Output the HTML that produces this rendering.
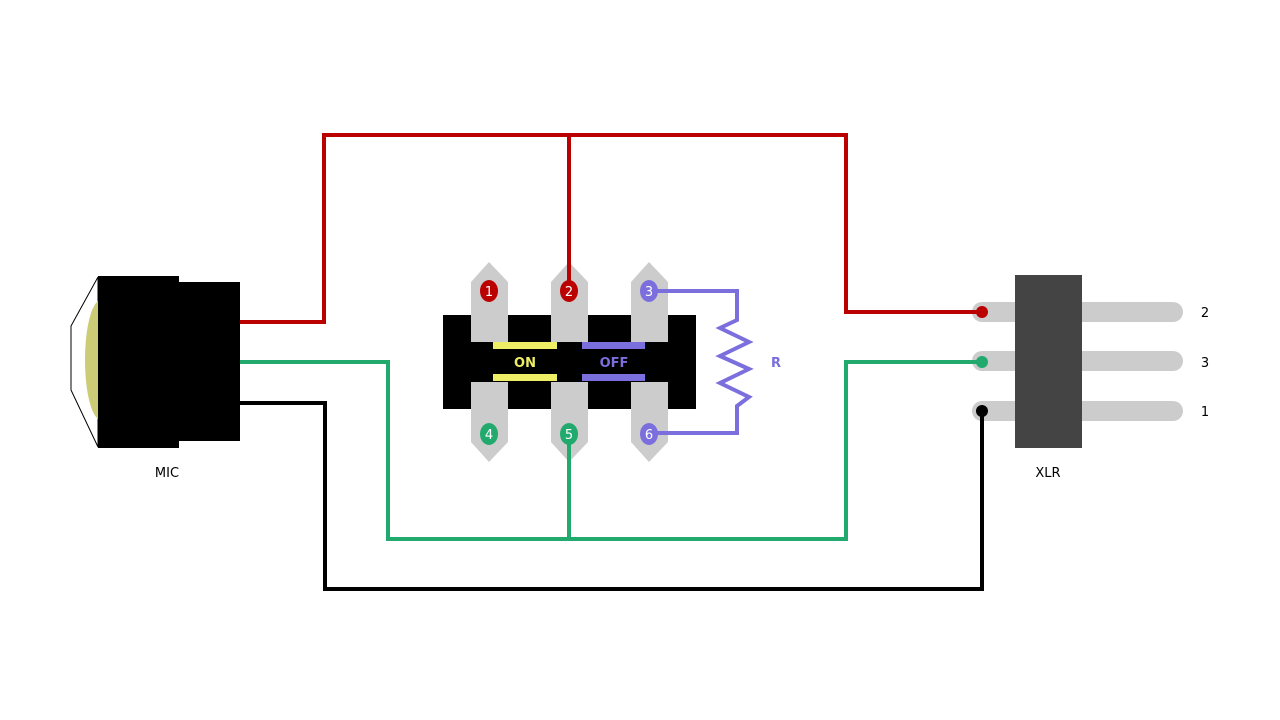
<!DOCTYPE html>
<html><head><meta charset="utf-8"><style>
html,body{margin:0;padding:0;background:#fff;width:1280px;height:720px;overflow:hidden}
svg{display:block}
text{font-family:"DejaVu Sans","Liberation Sans",sans-serif}
</style></head><body>
<svg width="1280" height="720" viewBox="0 0 1280 720" xmlns="http://www.w3.org/2000/svg">
<!-- XLR -->
<g stroke="#cccccc" stroke-width="20" stroke-linecap="round">
<line x1="982" y1="312" x2="1173" y2="312"/>
<line x1="982" y1="361" x2="1173" y2="361"/>
<line x1="982" y1="411" x2="1173" y2="411"/>
</g>
<rect x="1015" y="275" width="67" height="173" fill="#444"/>
<!-- switch -->
<rect x="443" y="315" width="253" height="94" fill="#000"/>
<g fill="#cccccc">
<polygon points="471,282 489,262 508,282 508,342 471,342"/>
<polygon points="551,282 569,262 588,282 588,342 551,342"/>
<polygon points="631,282 649,262 668,282 668,342 631,342"/>
<polygon points="471,382 508,382 508,442 489,462 471,442"/>
<polygon points="551,382 588,382 588,442 569,462 551,442"/>
<polygon points="631,382 668,382 668,442 649,462 631,442"/>
</g>
<rect x="493" y="342" width="64" height="7" fill="#eeee66"/>
<rect x="493" y="374" width="64" height="7" fill="#eeee66"/>
<rect x="582" y="342" width="63" height="7" fill="#7a6fdc"/>
<rect x="582" y="374" width="63" height="7" fill="#7a6fdc"/>
<text x="525" y="367" font-size="13" font-weight="bold" fill="#eeee66" text-anchor="middle">ON</text>
<text x="614" y="367" font-size="13" font-weight="bold" fill="#7a6fdc" text-anchor="middle">OFF</text>
<!-- wires -->
<g fill="none" stroke-width="4" stroke-linejoin="miter">
<polyline stroke="#bb0000" points="240,322 324,322 324,135 846,135 846,312 982,312"/>
<polyline stroke="#bb0000" points="569,135 569,291"/>
<polyline stroke="#22aa6e" points="240,362 388,362 388,539 846,539 846,362 982,362"/>
<polyline stroke="#22aa6e" points="569,539 569,434"/>
<polyline stroke="#000" points="240,403 325,403 325,589 982,589 982,411"/>
<polyline stroke="#7a6fdc" points="649,291 737,291 737,320 720,328 749,342 720,356 749,369 720,383 749,397 737,406 737,433 649,433"/>
</g>
<circle cx="982" cy="312" r="6" fill="#bb0000"/>
<circle cx="982" cy="362" r="6" fill="#22aa6e"/>
<circle cx="982" cy="411" r="6" fill="#000"/>
<!-- mic -->
<polygon points="98,277 71,326 71,390 98,447" fill="#fff" stroke="#000" stroke-width="1"/>
<ellipse cx="101" cy="360" rx="16" ry="60" fill="#cccc77"/>
<rect x="98" y="276" width="81" height="172" fill="#000"/>
<rect x="179" y="282" width="61" height="159" fill="#000"/>
<g font-size="13" fill="#fff" text-anchor="middle">
<ellipse cx="489" cy="291" rx="9" ry="11" fill="#bb0000"/><text x="489" y="296">1</text>
<ellipse cx="569" cy="291" rx="9" ry="11" fill="#bb0000"/><text x="569" y="296">2</text>
<ellipse cx="649" cy="291" rx="9" ry="11" fill="#7a6fdc"/><text x="649" y="296">3</text>
<ellipse cx="489" cy="434" rx="9" ry="11" fill="#22aa6e"/><text x="489" y="439">4</text>
<ellipse cx="569" cy="434" rx="9" ry="11" fill="#22aa6e"/><text x="569" y="439">5</text>
<ellipse cx="649" cy="434" rx="9" ry="11" fill="#7a6fdc"/><text x="649" y="439">6</text>
</g>
<text x="776" y="367" font-size="13" font-weight="bold" fill="#7a6fdc" text-anchor="middle">R</text>
<g font-size="13" fill="#000" text-anchor="middle">
<text x="167" y="477">MIC</text>
<text x="1048" y="477">XLR</text>
<text x="1205" y="317">2</text>
<text x="1205" y="367">3</text>
<text x="1205" y="416">1</text>
</g>
</svg>
</body></html>
